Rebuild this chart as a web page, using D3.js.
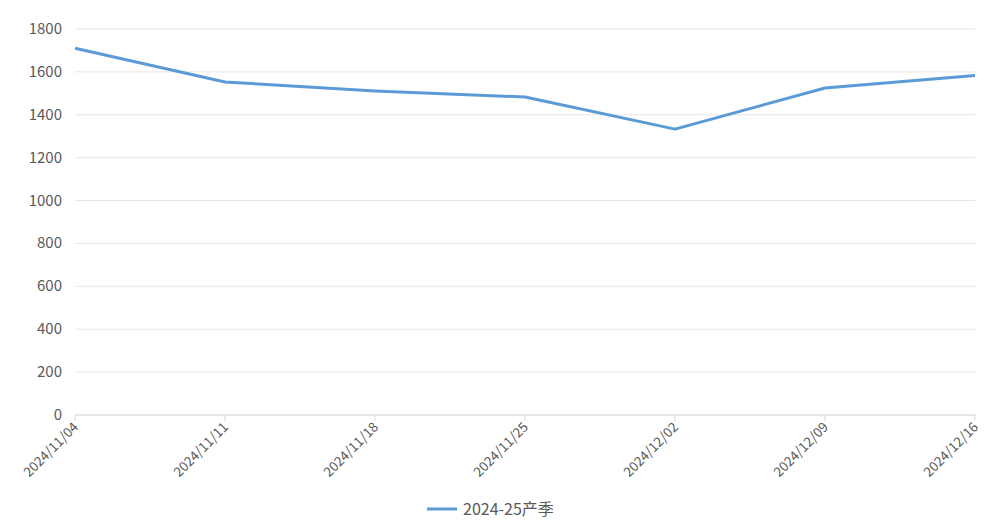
<!DOCTYPE html>
<html><head><meta charset="utf-8">
<script src="https://cdn.jsdelivr.net/npm/d3@7"></script>
<style>body{margin:0;background:#fff}svg{font-family:"Microsoft YaHei","Noto Sans CJK SC","DejaVu Sans",sans-serif}</style>
</head><body><svg id="c" width="987" height="531"></svg>
<script>
const categories=["2024/11/04","2024/11/11","2024/11/18","2024/11/25","2024/12/02","2024/12/09","2024/12/16"];
const values=[1710,1553,1511,1483,1333,1525,1583];
const yTicks=[0,200,400,600,800,1000,1200,1400,1600,1800];
const seriesName="2024-25产季";
const svg=d3.select("#c");
const x=d3.scalePoint().domain(categories).range([75,975]);
const y=d3.scaleLinear().domain([0,1800]).range([415,29]);
svg.append("g").selectAll("line").data(yTicks).join("line")
 .attr("x1",75).attr("x2",975).attr("y1",d=>y(d)).attr("y2",d=>y(d))
 .attr("stroke","#e6e6e6").attr("stroke-width",1);
svg.append("g").selectAll("text").data(yTicks).join("text")
 .attr("x",62).attr("y",d=>y(d)+5).attr("text-anchor","end")
 .attr("font-size",15).attr("fill","#595959").text(d=>d);
svg.append("line").attr("x1",75).attr("x2",975).attr("y1",415).attr("y2",415).attr("stroke","#d9d9d9");
svg.append("g").selectAll("line").data(categories).join("line")
 .attr("x1",d=>x(d)).attr("x2",d=>x(d)).attr("y1",415).attr("y2",421).attr("stroke","#d9d9d9");
svg.append("g").selectAll("text").data(categories).join("text")
 .attr("transform",d=>`translate(${x(d)+4},${428}) rotate(-45)`)
 .attr("text-anchor","end").attr("font-size",13.5).attr("fill","#595959").text(d=>d);
svg.append("path").datum(values)
 .attr("d",d3.line().x((d,i)=>x(categories[i])).y(d=>y(d)))
 .attr("fill","none").attr("stroke","#5b9bd5").attr("stroke-width",3).attr("stroke-linejoin","round");
svg.append("line").attr("x1",427).attr("x2",457).attr("y1",509).attr("y2",509).attr("stroke","#5b9bd5").attr("stroke-width",3);
svg.append("text").attr("x",463).attr("y",515).attr("font-size",16).attr("fill","#595959").text(seriesName);
</script></body></html>
